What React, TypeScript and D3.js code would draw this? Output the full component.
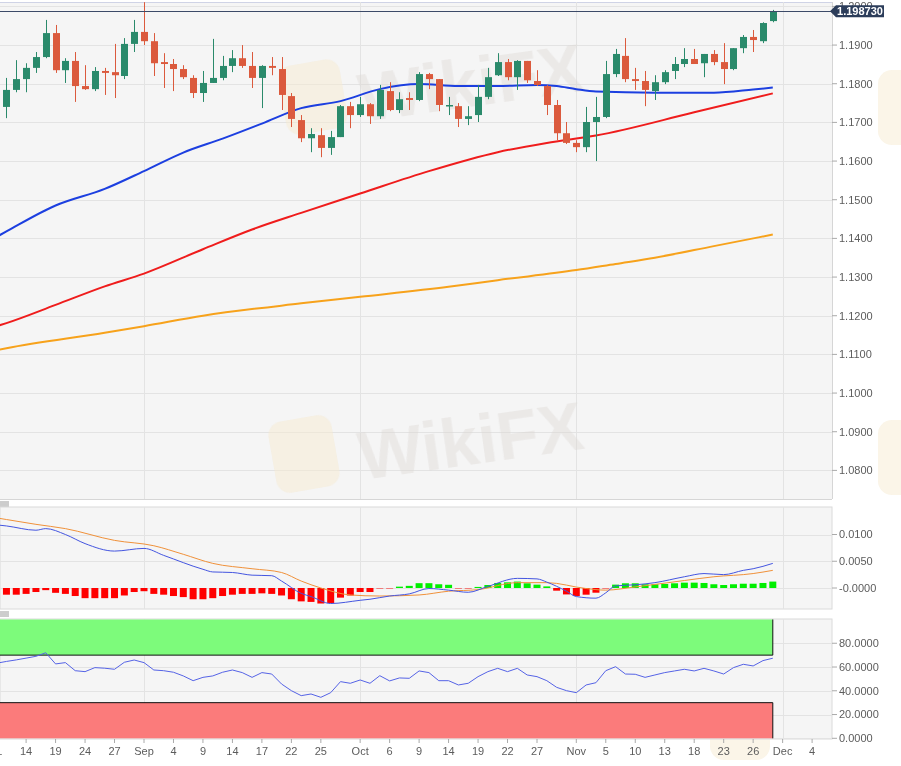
import React from "react";
import * as d3 from "d3";

// ---------- DATA ----------
const dates = [
  "2020-08-12","2020-08-13","2020-08-14","2020-08-17","2020-08-18","2020-08-19","2020-08-20","2020-08-21","2020-08-24","2020-08-25","2020-08-26","2020-08-27","2020-08-28","2020-08-31",
  "2020-09-01","2020-09-02","2020-09-03","2020-09-04","2020-09-07","2020-09-08","2020-09-09","2020-09-10","2020-09-11","2020-09-14","2020-09-15","2020-09-16","2020-09-17","2020-09-18","2020-09-21","2020-09-22","2020-09-23","2020-09-24","2020-09-25","2020-09-28","2020-09-29","2020-09-30",
  "2020-10-01","2020-10-02","2020-10-05","2020-10-06","2020-10-07","2020-10-08","2020-10-09","2020-10-12","2020-10-13","2020-10-14","2020-10-15","2020-10-16","2020-10-19","2020-10-20","2020-10-21","2020-10-22","2020-10-23","2020-10-26","2020-10-27","2020-10-28","2020-10-29","2020-10-30",
  "2020-11-02","2020-11-03","2020-11-04","2020-11-05","2020-11-06","2020-11-09","2020-11-10","2020-11-11","2020-11-12","2020-11-13","2020-11-16","2020-11-17","2020-11-18","2020-11-19","2020-11-20","2020-11-23","2020-11-24","2020-11-25","2020-11-26","2020-11-27","2020-11-30",
];

const open = [
  1.1740,1.1784,1.1812,1.1841,1.1869,1.1931,1.1835,1.1859,1.1794,1.1786,1.1833,1.1830,1.1820,1.1903,
  1.1934,1.1910,1.1856,1.1851,1.1838,1.1815,1.1776,1.1802,1.1815,1.1846,1.1866,1.1846,1.1815,1.1846,1.1838,1.1768,1.1706,1.1659,1.1667,1.1634,1.1662,1.1742,
  1.1719,1.1747,1.1716,1.1781,1.1732,1.1763,1.1758,1.1825,1.1812,1.1742,1.1742,1.1709,1.1719,1.1766,1.1822,1.1856,1.1817,1.1859,1.1807,1.1794,1.1745,1.1672,
  1.1647,1.1636,1.1701,1.1714,1.1825,1.1872,1.1812,1.1807,1.1781,1.1804,1.1833,1.1851,1.1864,1.1853,1.1877,1.1856,1.1838,1.1892,1.1921,1.1910,1.1962,
];
const high = [
  1.1815,1.1861,1.1853,1.1882,1.1965,1.1952,1.1866,1.1882,1.1848,1.1843,1.1841,1.1903,1.1918,1.1965,
  1.2011,1.1931,1.1879,1.1864,1.1848,1.1822,1.1833,1.1916,1.1872,1.1887,1.1900,1.1882,1.1848,1.1869,1.1869,1.1776,1.1719,1.1685,1.1685,1.1678,1.1745,1.1753,
  1.1766,1.1750,1.1797,1.1804,1.1778,1.1778,1.1830,1.1828,1.1812,1.1766,1.1750,1.1742,1.1797,1.1841,1.1879,1.1864,1.1861,1.1859,1.1835,1.1797,1.1758,1.1701,
  1.1654,1.1740,1.1766,1.1859,1.1890,1.1918,1.1841,1.1833,1.1822,1.1835,1.1869,1.1892,1.1890,1.1877,1.1887,1.1905,1.1892,1.1926,1.1939,1.1959,1.1991,
];
const low = [
  1.1711,1.1778,1.1778,1.1828,1.1866,1.1828,1.1802,1.1753,1.1784,1.1781,1.1771,1.1763,1.1812,1.1882,
  1.1900,1.1820,1.1789,1.1781,1.1812,1.1763,1.1753,1.1802,1.1809,1.1830,1.1841,1.1789,1.1737,1.1822,1.1732,1.1688,1.1649,1.1623,1.1610,1.1616,1.1662,1.1685,
  1.1714,1.1696,1.1709,1.1729,1.1724,1.1732,1.1755,1.1786,1.1729,1.1719,1.1688,1.1693,1.1701,1.1760,1.1820,1.1809,1.1784,1.1802,1.1794,1.1719,1.1654,1.1644,
  1.1623,1.1623,1.1600,1.1711,1.1817,1.1804,1.1784,1.1742,1.1758,1.1799,1.1812,1.1843,1.1851,1.1817,1.1848,1.1799,1.1835,1.1879,1.1882,1.1905,1.1959,
];
const close = [
  1.1784,1.1812,1.1841,1.1869,1.1931,1.1835,1.1859,1.1794,1.1786,1.1833,1.1828,1.1822,1.1903,1.1934,
  1.1910,1.1853,1.1851,1.1838,1.1817,1.1776,1.1802,1.1815,1.1846,1.1866,1.1846,1.1815,1.1846,1.1841,1.1771,1.1709,1.1659,1.1670,1.1634,1.1662,1.1742,1.1719,
  1.1747,1.1716,1.1784,1.1732,1.1760,1.1758,1.1825,1.1812,1.1745,1.1745,1.1709,1.1716,1.1766,1.1817,1.1856,1.1817,1.1859,1.1809,1.1797,1.1745,1.1672,1.1647,
  1.1636,1.1701,1.1714,1.1825,1.1877,1.1812,1.1807,1.1784,1.1804,1.1830,1.1851,1.1864,1.1851,1.1877,1.1856,1.1838,1.1892,1.1921,1.1913,1.1957,1.19873,
];
const lastPrice = "1.198730";

// moving averages: [candle index, value]
const sma50: [number, number][] = [
  [-1,1.1404],[0,1.1418],[5,1.1485],[10,1.1528],[14,1.1574],[18,1.1622],[22,1.1658],[26,1.1697],[30,1.1737],[34,1.1755],[38,1.1786],[42,1.1799],[46,1.1794],[50,1.1794],[54,1.1797],[56,1.1794],[58,1.1786],[60,1.1780],[66,1.1777],[72,1.1777],[76,1.1785],[78,1.1790],
];
const sma100: [number, number][] = [
  [-1,1.1173],[0,1.1181],[5,1.1228],[10,1.1276],[14,1.1309],[20,1.1372],[25,1.1423],[30,1.1466],[36,1.1516],[43,1.1574],[50,1.1623],[55,1.1647],[60,1.1666],[70,1.1726],[78,1.1775],
];
const sma200: [number, number][] = [
  [-1,1.1111],[0,1.1116],[10,1.1156],[14,1.1173],[20,1.1200],[30,1.1232],[36,1.1249],[45,1.1275],[50,1.1292],[58,1.1318],[62,1.1334],[66,1.1350],[72,1.1380],[78,1.1410],
];

// MACD
const macdLine: [number, number][] = [
  [-1,0.0118],[0,0.0116],[3,0.0108],[4,0.0111],[6,0.0100],[8,0.0083],[11,0.0069],[14,0.0074],[16,0.0061],[20,0.0035],[21,0.0030],[23,0.0029],[25,0.0024],[27,0.0023],[28,0.0013],[30,-0.0010],[31,-0.0016],[33,-0.0029],[36,-0.0023],[37,-0.0021],[39,-0.0015],[41,-0.0011],[43,-0.0001],[45,-0.0004],[47,-0.0008],[49,0.0003],[52,0.0018],[54,0.0017],[55,0.0011],[57,-0.0006],[58,-0.0016],[60,-0.0019],[61,-0.0009],[62,0.0004],[64,0.0006],[66,0.0010],[69,0.0021],[71,0.0027],[73,0.0025],[75,0.0033],[76,0.0036],[78,0.0046],
];
const signalLine: [number, number][] = [
  [-1,0.0131],[0,0.0128],[3,0.0119],[6,0.0111],[11,0.0089],[15,0.0079],[18,0.0063],[21,0.0046],[25,0.0036],[28,0.0029],[30,0.0013],[32,0.0000],[35,-0.0013],[38,-0.0015],[42,-0.0013],[45,-0.0006],[48,-0.0003],[52,0.0010],[55,0.0010],[59,-0.0001],[61,-0.0004],[64,0.0002],[69,0.0014],[72,0.0021],[76,0.0027],[78,0.0033],
];
const histogram = [
  -0.00125,-0.00125,-0.0011,-0.00075,-0.0004,-0.0009,-0.0011,-0.0015,-0.0019,-0.0019,-0.0019,-0.0019,-0.0014,-0.00075,
  -0.0006,-0.0011,-0.00125,-0.0015,-0.0017,-0.0021,-0.0021,-0.0019,-0.0015,-0.00125,-0.0011,-0.0011,-0.001,-0.0011,-0.0014,-0.0021,-0.0025,-0.0026,-0.0029,-0.0028,-0.0018,-0.0014,
  -0.00075,-0.00075,-0.0001,-0.0001,0.00025,0.0004,0.0009,0.0009,0.0007,0.0006,-0.00005,-0.00005,0.0002,0.00056,0.00094,0.00106,0.0012,0.00088,0.00063,0.0003,-0.0005,-0.0012,
  -0.0015,-0.00125,-0.00088,-0.00005,0.00063,0.00088,0.00088,0.0007,0.0007,0.00075,0.00088,0.001,0.001,0.00094,0.0007,0.00056,0.0007,0.0008,0.0008,0.00094,0.0012,
];

// RSI
const rsi = [
  64.7,66,67.5,69,72,62.6,63.7,56.9,56.1,59.5,59,58.1,64,65.9,
  63.7,57.5,56.9,55.6,52.5,48.5,51.3,52.5,55.6,57.5,55.3,51.3,55.3,54.1,45.7,40.1,35.9,37.3,34.5,38.4,47.7,46.3,
  49.1,46.3,52.7,48.3,50.8,50.5,56.7,55.3,48.5,48.5,44.9,46.3,51.9,56.1,58.9,56.1,58.9,53.3,51.9,48.5,42.9,40.1,
  38.4,44.9,46.8,56.9,60.3,54.1,53.9,51.3,53.3,55.3,56.7,58.1,56.7,58.9,56.7,54.1,59.5,62.3,60.9,65.4,67.4,
];
const rsiFirst = 63.2; // value at the left edge
const rsiUpper = 70;
const rsiLower = 30;

// axes
const priceTicks = [1.08,1.09,1.10,1.11,1.12,1.13,1.14,1.15,1.16,1.17,1.18,1.19,1.20];
const macdTicks = [0.01, 0.005, 0];
const macdTickLabels = ["0.0100","0.0050","-0.0000"];
const rsiTicks = [0, 20, 40, 60, 80];
const xTicks: [number, string][] = [
  [-1,"11"],[2,"14"],[5,"19"],[8,"24"],[11,"27"],[14,"Sep"],[17,"4"],[20,"9"],[23,"14"],[26,"17"],[29,"22"],[32,"25"],
  [36,"Oct"],[39,"6"],[42,"9"],[45,"14"],[48,"19"],[51,"22"],[54,"27"],[58,"Nov"],[61,"5"],[64,"10"],[67,"13"],[70,"18"],[73,"23"],[76,"26"],[79,"Dec"],[82,"4"],
];
const monthStarts = [14, 36, 58, 79];

// ---------- STYLE ----------
const FONT = "'Liberation Sans', Arial, sans-serif";
const GREEN = "#2a8a6b";
const RED = "#db5a3d";
const GRID = "#e3e3e3";
const PANEL_BG = "#f5f5f5";
const AXIS_TXT = "#5c5c5c";

export default function App() {
  const W = 901, H = 766;
  const R = 832;
  const main = { top: 2, bottom: 499 };
  const macdP = { top: 507, bottom: 609 };
  const rsiP = { top: 619, bottom: 739 };

  const x = d3.scaleLinear().domain([0, 78]).range([6.45, 772.8]);
  const yP = d3.scaleLinear().domain([1.08, 1.2]).range([470.4, 6.4]);
  const yM = d3.scaleLinear().domain([0, 0.01]).range([588, 534.5]);
  const yR = d3.scaleLinear().domain([0, 100]).range([738.3, 619.5]);

  const maLine = d3.line<[number, number]>().x(d => x(d[0])).y(d => yP(d[1])).curve(d3.curveMonotoneX);
  const mLine = d3.line<[number, number]>().x(d => x(d[0])).y(d => yM(d[1])).curve(d3.curveMonotoneX);
  const rsiPts: [number, number][] = [[-1, rsiFirst], ...rsi.map((v, i) => [i, v] as [number, number])];
  const rLine = d3.line<[number, number]>().x(d => x(d[0])).y(d => yR(d[1]));

  const bodyW = 7;
  const lastX = x(close.length - 1);

  const handle = (y: number) => (
    <g stroke="#9a9a9a" strokeWidth={1}>
      <line x1={0} x2={9} y1={y} y2={y} />
      <line x1={0} x2={9} y1={y + 2} y2={y + 2} />
      <line x1={0} x2={9} y1={y + 4} y2={y + 4} />
    </g>
  );

  const vGrid = (top: number, bottom: number) =>
    monthStarts.map((m, k) => (
      <line key={k} x1={Math.round(x(m)) + 0.5} x2={Math.round(x(m)) + 0.5} y1={top} y2={bottom} stroke={GRID} />
    ));

  return (
    <svg width={W} height={H} viewBox={`0 0 ${W} ${H}`}
      style={{ position: "absolute", left: 0, top: 0, background: "#fff", fontFamily: FONT }}>
      <defs>
        <clipPath id="cMain"><rect x={0} y={main.top} width={R} height={main.bottom - main.top} /></clipPath>
        <clipPath id="cMacd"><rect x={0} y={macdP.top} width={R} height={macdP.bottom - macdP.top} /></clipPath>
        <clipPath id="cRsi"><rect x={0} y={rsiP.top} width={R} height={rsiP.bottom - rsiP.top} /></clipPath>
      </defs>

      {/* ===== MAIN PANEL ===== */}
      <rect x={0} y={main.top} width={R} height={main.bottom - main.top} fill={PANEL_BG} />
      <line x1={0} x2={R} y1={main.top + 0.5} y2={main.top + 0.5} stroke="#cfd3e6" />
      <g clipPath="url(#cMain)">
        {priceTicks.map(t => (
          <line key={t} x1={0} x2={R} y1={Math.round(yP(t)) + 0.5} y2={Math.round(yP(t)) + 0.5} stroke={GRID} />
        ))}
        {vGrid(main.top, main.bottom)}
      </g>

      {/* watermarks */}
      <g opacity={0.5}>
        <rect x={282} y={62} width={62} height={70} rx={14} fill="#f6ead0" transform="rotate(-10 313 97)" />
        <rect x={272} y={418} width={64} height={72} rx={14} fill="#f6ead0" transform="rotate(-10 304 454)" />
        <rect x={878} y={70} width={50} height={75} rx={14} fill="#f6ead0" />
        <rect x={878} y={420} width={50} height={75} rx={14} fill="#f6ead0" />
        <rect x={710} y={700} width={60} height={60} rx={14} fill="#f6ead0" />
      </g>
      <g fill="#dcd7d3" opacity={0.4} fontFamily={FONT} fontWeight="bold" fontSize={68}>
        <text x={362} y={122} transform="rotate(-8 362 122)">WikiFX</text>
        <text x={362} y={480} transform="rotate(-8 362 480)">WikiFX</text>
      </g>

      <g clipPath="url(#cMain)">
        {/* moving averages */}
        <path d={maLine(sma200) || ""} fill="none" stroke="#f7a21b" strokeWidth={2} />
        <path d={maLine(sma100) || ""} fill="none" stroke="#ef1c1c" strokeWidth={2} />
        <path d={maLine(sma50) || ""} fill="none" stroke="#1c3fe0" strokeWidth={2} />

        {/* candles */}
        {open.map((o, i) => {
          const c = close[i];
          const up = c >= o;
          const col = up ? GREEN : RED;
          const cx = Math.round(x(i)) + 0.5;
          const yTop = yP(Math.max(o, c));
          const yBot = yP(Math.min(o, c));
          return (
            <g key={dates[i]}>
              <line x1={cx} x2={cx} y1={yP(high[i])} y2={yP(low[i])} stroke={col} strokeWidth={1} />
              <rect x={cx - bodyW / 2} y={yTop} width={bodyW} height={Math.max(1.5, yBot - yTop)} fill={col} />
            </g>
          );
        })}
      </g>

      {/* last price line */}
      <line x1={0} x2={R} y1={Math.round(yP(close[close.length - 1])) + 0.5} y2={Math.round(yP(close[close.length - 1])) + 0.5} stroke="#3c4a68" strokeWidth={1} />
      <line x1={R + 0.5} x2={R + 0.5} y1={main.top} y2={main.bottom} stroke="#d6d6d6" />
      <line x1={0} x2={R} y1={main.bottom + 0.5} y2={main.bottom + 0.5} stroke="#d6d6d6" />

      {/* price axis */}
      {priceTicks.map(t => (
        <g key={t}>
          <line x1={R} x2={R + 5} y1={yP(t)} y2={yP(t)} stroke="#aaa" />
          <text x={R + 7} y={yP(t)} dy="0.35em" fontSize={11} fill={AXIS_TXT}>{t.toFixed(4)}</text>
        </g>
      ))}
      {/* last price tag */}
      {(() => {
        const yy = yP(close[close.length - 1]);
        return (
          <g>
            <path d={`M${R - 2},${yy} L${R + 4},${yy - 6} L${R + 52},${yy - 6} L${R + 52},${yy + 6} L${R + 4},${yy + 6} Z`} fill="#2c3d5a" />
            <text x={R + 28} y={yy} dy="0.36em" textAnchor="middle" fontSize={11} fontWeight="bold" fill="#fff">{lastPrice}</text>
          </g>
        );
      })()}

      {handle(502)}

      {/* ===== MACD PANEL ===== */}
      <rect x={0} y={macdP.top} width={R} height={macdP.bottom - macdP.top} fill={PANEL_BG} stroke="#dadada" />
      <g clipPath="url(#cMacd)">
        {macdTicks.map(t => (
          <line key={t} x1={0} x2={R} y1={Math.round(yM(t)) + 0.5} y2={Math.round(yM(t)) + 0.5} stroke={GRID} />
        ))}
        {vGrid(macdP.top, macdP.bottom)}
        {histogram.map((v, i) => {
          const y0 = yM(0);
          const y1 = yM(v);
          const h = Math.max(1, Math.abs(y1 - y0));
          const small = Math.abs(v) < 0.00015;
          return (
            <rect key={i} x={x(i) - 3.5} y={v >= 0 ? y0 - h : y0} width={7} height={h}
              fill={v >= 0 ? "#00ee00" : "#ff0000"} opacity={small ? 0.45 : 1} />
          );
        })}
        <path d={mLine(signalLine) || ""} fill="none" stroke="#f0913a" strokeWidth={1} />
        <path d={mLine(macdLine) || ""} fill="none" stroke="#4455e0" strokeWidth={1} />
      </g>
      {macdTicks.map((t, k) => (
        <g key={t}>
          <line x1={R} x2={R + 5} y1={yM(t)} y2={yM(t)} stroke="#aaa" />
          <text x={R + 7} y={yM(t)} dy="0.35em" fontSize={11} fill={AXIS_TXT}>{macdTickLabels[k]}</text>
        </g>
      ))}

      {handle(612)}

      {/* ===== RSI PANEL ===== */}
      <rect x={0} y={rsiP.top} width={R} height={rsiP.bottom - rsiP.top} fill={PANEL_BG} stroke="#dadada" />
      <g clipPath="url(#cRsi)">
        {rsiTicks.map(t => (
          <line key={t} x1={0} x2={R} y1={Math.round(yR(t)) + 0.5} y2={Math.round(yR(t)) + 0.5} stroke={GRID} />
        ))}
        {vGrid(rsiP.top, rsiP.bottom)}
        <rect x={0} y={yR(100)} width={lastX} height={yR(rsiUpper) - yR(100)} fill="#7dfb7b" />
        <rect x={0} y={yR(rsiLower)} width={lastX} height={yR(0) - yR(rsiLower)} fill="#fb7b7b" />
        <line x1={0} x2={lastX} y1={yR(rsiUpper)} y2={yR(rsiUpper)} stroke="#111" strokeWidth={1} />
        <line x1={0} x2={lastX} y1={yR(rsiLower)} y2={yR(rsiLower)} stroke="#111" strokeWidth={1} />
        <line x1={lastX} x2={lastX} y1={yR(100)} y2={yR(rsiUpper)} stroke="#111" strokeWidth={1} />
        <line x1={lastX} x2={lastX} y1={yR(rsiLower)} y2={yR(0)} stroke="#111" strokeWidth={1} />
        <path d={rLine(rsiPts) || ""} fill="none" stroke="#5563e6" strokeWidth={1} />
      </g>
      {rsiTicks.map(t => (
        <g key={t}>
          <line x1={R} x2={R + 5} y1={yR(t)} y2={yR(t)} stroke="#aaa" />
          <text x={R + 7} y={yR(t)} dy="0.35em" fontSize={11} fill={AXIS_TXT}>{t.toFixed(4)}</text>
        </g>
      ))}

      {/* x axis */}
      {xTicks.map(([i, lab]) => (
        <g key={i + lab}>
          <line x1={x(i)} x2={x(i)} y1={rsiP.bottom} y2={rsiP.bottom + 4} stroke="#aaa" />
          <text x={x(i)} y={755} textAnchor="middle" fontSize={11} fill={AXIS_TXT}>{lab}</text>
        </g>
      ))}
    </svg>
  );
}
